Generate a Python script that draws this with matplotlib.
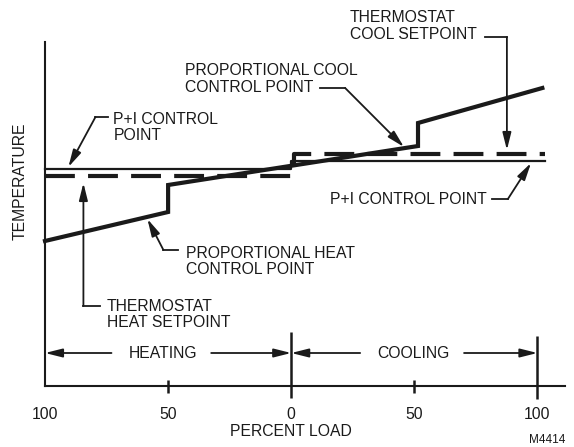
"""
Proportional vs. P+I control: room temperature control point across the
heating and cooling load range.
"""

import matplotlib
matplotlib.use("Agg")
import matplotlib.pyplot as plt

plt.rcParams['font.family'] = ['Liberation Sans', 'DejaVu Sans']
plt.rcParams['lines.scale_dashes'] = False

INK = "#1a1a1a"
FONT = 11.3

# Percent load: heating runs 100 -> 0 (plotted as -100 -> 0), cooling 0 -> 100
LOAD_TICKS = [-100, -50, 0, 50, 100]
LOAD_LABELS = ["100", "50", "0", "50", "100"]

# Proportional control point (steps at 50 % heating and 50 % cooling)
prop_load = [-100, -50, -50, 51.5, 51.5, 102]
prop_temp = [145, 174, 201, 240, 263, 298]

# P+I control point
pi_load = [-100, 0, 0, 103]
pi_temp = [217, 217, 225, 225]

# Thermostat setpoints (heat on the left, cool on the right)
setpoint_load = [-100, 1, 1, 103]
setpoint_temp = [210, 210, 232, 232]

fig = plt.figure(figsize=(5.74, 4.47), dpi=100)
ax = fig.add_axes([45 / 574, 61 / 447, 520 / 574, 344 / 447])
ax.set_xlim(-100, 111.2)
ax.set_ylim(0, 344)

for side in ["top", "right"]:
    ax.spines[side].set_visible(False)
for side in ["left", "bottom"]:
    ax.spines[side].set_linewidth(1.5)
    ax.spines[side].set_color(INK)

ax.set_yticks([])
ax.set_xticks(LOAD_TICKS)
ax.set_xticklabels(LOAD_LABELS, fontsize=FONT, color=INK)
ax.tick_params(axis="x", length=0, pad=15)

# Curves
ax.plot(setpoint_load, setpoint_temp, color=INK, lw=3.0, dashes=(21.5, 9.5),
        solid_joinstyle="miter", clip_on=False)
ax.plot(pi_load, pi_temp, color=INK, lw=1.6, clip_on=False)
ax.plot(prop_load, prop_temp, color=INK, lw=3.0, solid_joinstyle="miter",
        clip_on=False)

# Scale marks on the load axis
ax.vlines([-50, 50], -7, 6, color=INK, lw=1.8, clip_on=False)
ax.vlines(0, -12, 54, color=INK, lw=1.8, clip_on=False)
ax.vlines(100, -13, 50, color=INK, lw=1.8, clip_on=False)

arrow = dict(arrowstyle="-|>,head_length=0.8,head_width=0.2", color=INK,
             lw=1.3, mutation_scale=13, shrinkA=0, shrinkB=0)

# Heating / cooling ranges
ax.text(-52, 33, "HEATING", ha="center", va="center", fontsize=FONT, color=INK)
ax.annotate("", xy=(-100, 33), xytext=(-73, 33), arrowprops=arrow)
ax.annotate("", xy=(0, 33), xytext=(-32.5, 33), arrowprops=arrow)
ax.text(49.5, 33, "COOLING", ha="center", va="center", fontsize=FONT, color=INK)
ax.annotate("", xy=(0, 33), xytext=(28, 33), arrowprops=arrow)
ax.annotate("", xy=(100, 33), xytext=(70.2, 33), arrowprops=arrow)


def callout(label, text_xy, ha, leader, tip):
    """Label with a short leader line ending in an arrow at tip."""
    ax.text(text_xy[0], text_xy[1], label, ha=ha, va="center", fontsize=FONT,
            color=INK, linespacing=1.1)
    xs, ys = zip(*leader)
    ax.plot(xs, ys, color=INK, lw=1.3, clip_on=False)
    ax.annotate("", xy=tip, xytext=leader[-1], arrowprops=arrow,
                annotation_clip=False)


callout("P+I CONTROL\nPOINT", (-72.2, 258.5), "left",
        [(-74.6, 269), (-79.5, 269)], (-90.5, 219))
callout("PROPORTIONAL COOL\nCONTROL POINT", (-43, 307), "left",
        [(11.8, 298), (21.9, 298)], (45.8, 239))
callout("THERMOSTAT\nCOOL SETPOINT", (23.9, 360), "left",
        [(78.7, 349), (87.6, 349)], (87.6, 236))
callout("P+I CONTROL POINT", (79.5, 187), "right",
        [(81.5, 187), (88.0, 187)], (97.4, 223))
callout("PROPORTIONAL HEAT\nCONTROL POINT", (-42.6, 124.5), "left",
        [(-45.8, 136), (-51.9, 136)], (-58.4, 167))
callout("THERMOSTAT\nHEAT SETPOINT", (-75, 71.5), "left",
        [(-77.5, 80), (-84.4, 80)], (-84.4, 203))

fig.text(20 / 574, 1 - 181 / 447, "TEMPERATURE", rotation=90, ha="center",
         va="center", fontsize=FONT, color=INK)
fig.text(291 / 574, 1 - 431 / 447, "PERCENT LOAD", ha="center", va="center",
         fontsize=FONT, color=INK)
fig.text(547 / 574, 1 - 440 / 447, "M4414", ha="center", va="center",
         fontsize=8.5, color=INK)

fig.savefig("out.png", dpi=100)
